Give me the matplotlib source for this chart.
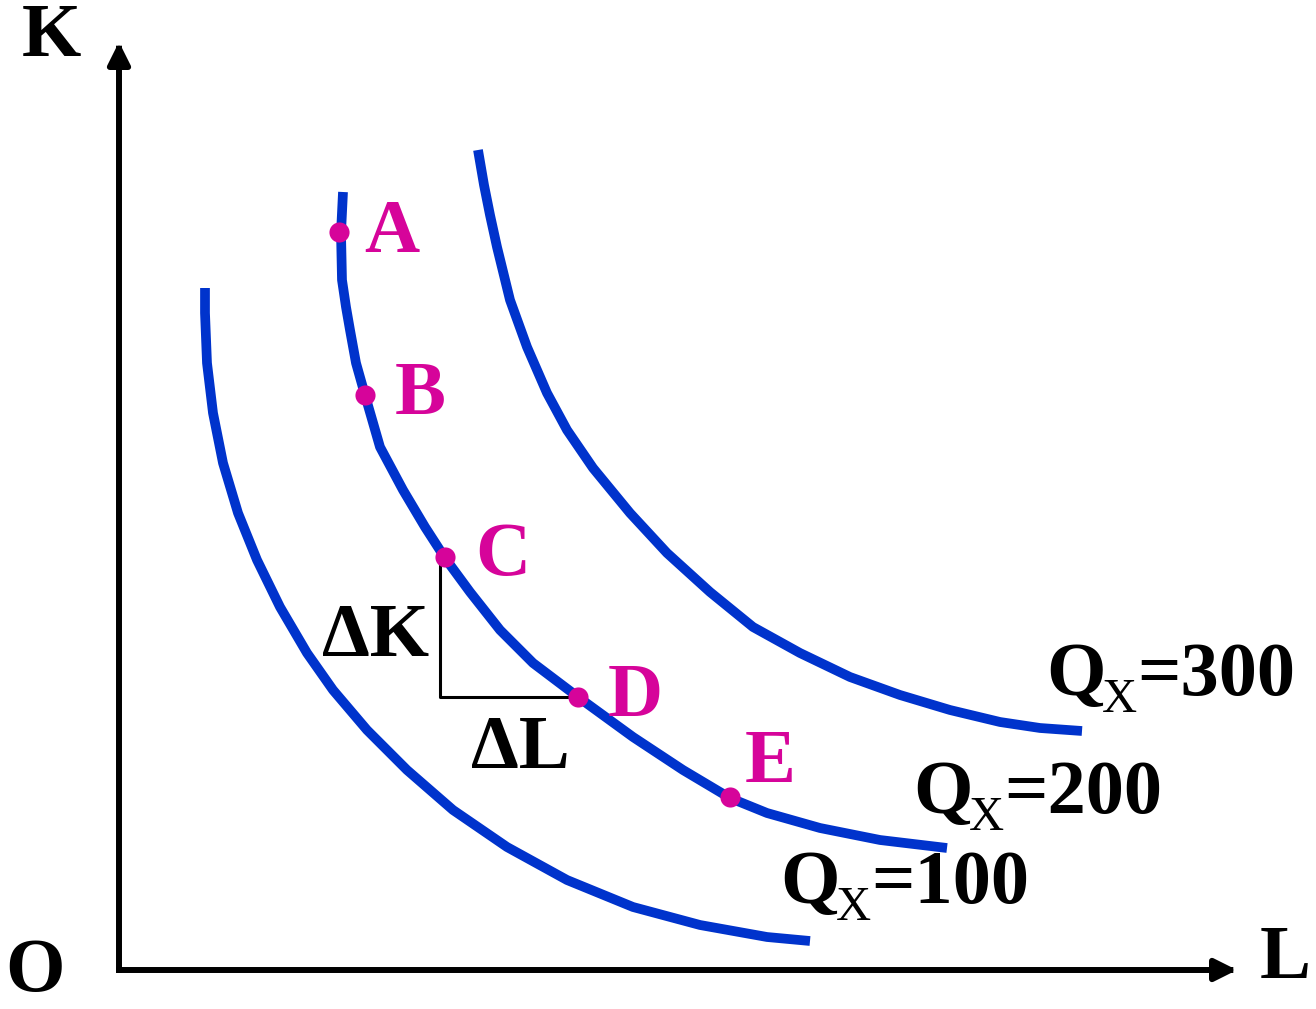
import matplotlib
matplotlib.use("Agg")
import matplotlib.pyplot as plt

plt.rcParams["font.family"] = ["Liberation Serif", "DejaVu Serif"]

# Isoquants: labour L (horizontal) vs capital K (vertical, measured downward from the top)
q100_L = [205, 205, 207, 213, 223, 238, 257, 280, 307, 333, 367, 407, 453, 507, 567, 633, 700, 767, 810]
q100_K = [288, 313, 363, 413, 463, 513, 560, 607, 653, 690, 730, 770, 810, 847, 880, 907, 925, 937, 941]

q200_L = [343, 341, 342, 346, 350, 356, 365, 380, 403, 425, 445, 470, 500, 533, 578, 633, 683, 730, 767, 820, 880, 947]
q200_K = [192, 233, 280, 307, 330, 363, 395, 447, 490, 527, 558, 592, 630, 663, 697, 737, 770, 798, 813, 828, 840, 848]

q300_L = [478, 484, 490, 497, 510, 527, 547, 567, 593, 630, 667, 710, 753, 800, 850, 900, 950, 1000, 1040, 1082]
q300_K = [150, 185, 215, 247, 300, 347, 393, 430, 468, 513, 553, 592, 627, 653, 677, 695, 710, 722, 728, 731]

point_names = ["A", "B", "C", "D", "E"]
point_L = [339, 365, 445, 578, 730]
point_K = [232, 395, 557, 697, 797]

curve_levels = ["100", "200", "300"]

BLUE = "#0033CC"
MAGENTA = "#D6049A"

fig = plt.figure(figsize=(13.16, 10.09), dpi=100)
ax = fig.add_axes([0, 0, 1, 1])
ax.set_xlim(0, 1316)
ax.set_ylim(1009, 0)
ax.axis("off")

# Axes with arrow heads
arrow_kw = dict(arrowstyle="-|>", lw=4.3, color="black",
                mutation_scale=33, shrinkA=0, shrinkB=0, capstyle="projecting")
ax.annotate("", xy=(119, 42), xytext=(119, 970), arrowprops=arrow_kw)
ax.annotate("", xy=(1237, 970), xytext=(119, 970), arrowprops=arrow_kw)

tkw = dict(fontsize=55, fontweight="bold", color="black")
ax.text(51, 38, "K", ha="center", va="center", **tkw)
ax.text(35, 972, "O", ha="center", va="center", **tkw)
ax.text(1285, 960, "L", ha="center", va="center", **tkw)

# Isoquant curves
for xs, ys in [(q100_L, q100_K), (q200_L, q200_K), (q300_L, q300_K)]:
    ax.plot(xs, ys, color=BLUE, lw=7.0, solid_capstyle="butt", solid_joinstyle="round")

# Slope triangle between C and D
c_idx, d_idx = 2, 3
tri_x = point_L[c_idx] - 5
ax.plot([tri_x, tri_x, point_L[d_idx] - 5],
        [point_K[c_idx], point_K[d_idx], point_K[d_idx]],
        color="black", lw=2.2, zorder=3, solid_capstyle="butt")
ax.text(376, 637, "ΔK", ha="center", va="center", **tkw)
ax.text(520, 749, "ΔL", ha="center", va="center", **tkw)

# Points on the Q=200 isoquant
ax.scatter(point_L, point_K, s=210, color=MAGENTA, zorder=5, linewidths=0)
label_offsets = [(53, 1), (55, 1), (58, 0), (57, 0), (40, -33)]
for name, x, y, (dx, dy) in zip(point_names, point_L, point_K, label_offsets):
    ax.text(x + dx, y + dy, name, ha="center", va="center",
            fontsize=55, fontweight="bold", color=MAGENTA)

# Isoquant output labels: bold Q, regular subscript X, bold "=level"
label_starts = [(780, 903), (913, 813), (1046, 695)]
for level, (x, y) in zip(curve_levels, label_starts):
    ax.text(x, y, "Q", ha="left", va="baseline", **tkw)
    ax.text(x + 56, y + 17, "X", ha="left", va="baseline",
            fontsize=35, fontweight="normal", color="black")
    ax.text(x + 91, y, "=" + level, ha="left", va="baseline", **tkw)

fig.savefig("out.png", dpi=100)
